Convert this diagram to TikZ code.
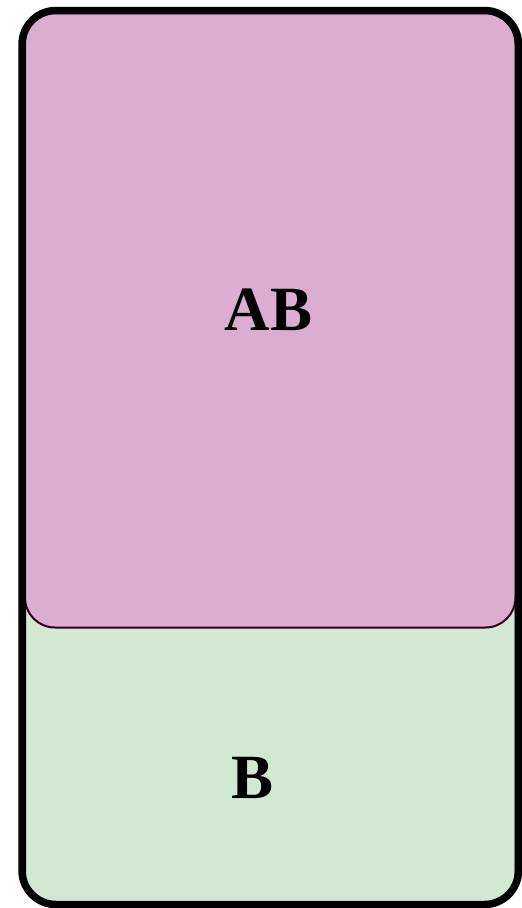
\documentclass[tikz,border=0pt]{standalone}
\usepackage{fontspec}
\setmainfont{Liberation Serif}
\usetikzlibrary{positioning}
\definecolor{abpink}{RGB}{219,174,209}
\definecolor{bgreen}{RGB}{211,231,213}
\definecolor{abedge}{RGB}{45,0,30}
\tikzset{
  region/.style={rounded corners=30pt, inner sep=0pt, line width=2pt, minimum width=490.5pt},
  setab/.style ={region, fill=abpink, draw=abedge, minimum height=614.5pt},
  setb/.style  ={region, fill=bgreen, draw=black, minimum height=891pt},
  frame/.style ={draw, line width=7.5pt, rounded corners=34pt, inner sep=0pt,
                 minimum width=496.5pt, minimum height=894pt},
  lbl/.style   ={font=\fontsize{63}{70}\selectfont\bfseries, inner sep=0pt},
}

\begin{document}
\begin{tikzpicture}[x=1pt,y=-1pt]
  \useasboundingbox (0,0) rectangle (522,908);
  % --- the two sets ---------------------------------------------------
  \node[setb, anchor=north west] (b) at (24,12) {};
  \node[setab, anchor=north west] (ab) at (b.north west) {};
  % --- outer frame ----------------------------------------------------
  \node[frame] (outer) at (270.25,457.5) {};
  % --- labels ---------------------------------------------------------
  \node[lbl] (abl) at (268.5,309.5) {AB};
  \node[lbl] (bl)  at (252.5,777.5) {B};
\end{tikzpicture}
\end{document}
